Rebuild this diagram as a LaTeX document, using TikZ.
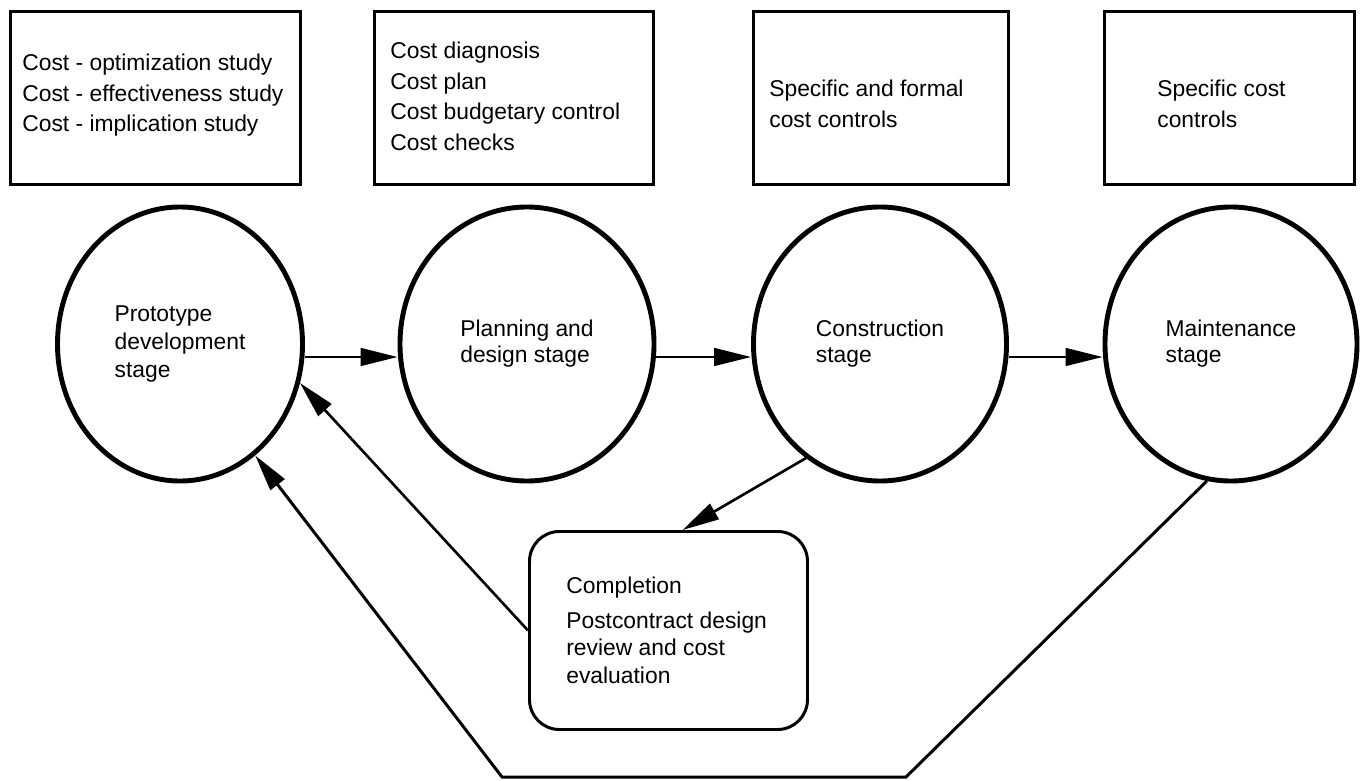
\documentclass[tikz,border=0pt]{standalone}
\usepackage{fontspec}
\setmainfont{Liberation Sans}
\usetikzlibrary{positioning,calc,arrows.meta,shapes.geometric}

\begin{document}
\begin{tikzpicture}[x=0.02cm,y=-0.02cm,font=\fontsize{13}{17.3}\selectfont,
			cost box/.style={draw, line width=1.7pt, rectangle, minimum height=173*0.02cm, anchor=north west},
			stage/.style={draw, ellipse, line width=2.8pt, align=left, inner sep=0pt,
				font=\fontsize{13}{14.8}\selectfont, minimum height=274*0.02cm},
			list/.style={align=left, inner sep=0pt, anchor=north west},
			flow/.style={line width=1.5pt, -{Triangle[length=21pt,width=10pt]}}]

			\useasboundingbox (0,0) rectangle (1363,781);

			% cost control boxes
			\node[cost box, minimum width=290*0.02cm] (c1) at (9,10) {};
			\node[cost box, minimum width=279*0.02cm] (c2) at (373,10) {};
			\node[cost box, minimum width=255*0.02cm] (c3) at (752,10) {};
			\node[cost box, minimum width=250*0.02cm] (c4) at (1103,10) {};

			\node[list] (t1) at ($(c1.north west)+(13,44)$) {Cost - optimization study\\ Cost - effectiveness study\\ Cost - implication study};
			\node[list] (t2) at ($(c2.north west)+(17,32)$) {Cost diagnosis\\ Cost plan\\ Cost budgetary control\\ Cost checks};
			\node[list] (t3) at ($(c3.north west)+(17,70)$) {Specific and formal\\ cost controls};
			\node[list] (t4) at ($(c4.north west)+(54,70)$) {Specific cost\\ controls};

			% stages
			\node[stage, minimum width=245*0.02cm] (s1) at (180,344) {Prototype\\[1pt] development\\[1pt] stage};
			\node[stage, minimum width=254*0.02cm] (s2) at (527,344) {Planning and\\ design stage};
			\node[stage, minimum width=253*0.02cm] (s3) at (880,344) {Construction\\ stage};
			\node[stage, minimum width=252*0.02cm] (s4) at (1231,344) {Maintenance\\ stage};

			\node[draw, line width=1.7pt, rounded corners=17pt, minimum width=278*0.02cm,
				minimum height=198*0.02cm, anchor=north west] (done) at (528,530) {};
			\node[list, font=\fontsize{13}{15.6}\selectfont] (t5) at ($(done.north west)+(38,47)$)
				{Completion\\[4pt] Postcontract design\\ review and cost\\ evaluation};

			\draw[flow] ($(s1.east)+(0,13)$) -- ($(s2.west)+(0,13)$);
			\draw[flow] ($(s2.east)+(0,13)$) -- ($(s3.west)+(0,13)$);
			\draw[flow] ($(s3.east)+(0,13)$) -- ($(s4.west)+(0,13)$);

			\draw[flow] (s3.-123) -- (done.82);
			\draw[flow] (done.west) -- (s1.-18);

			\coordinate (b1) at (502,777);
			\coordinate (b2) at (906,777);
			\draw[flow, line width=1.7pt] (s4.-100) -- (b2) -- (b1) -- (s1.-56);
		\end{tikzpicture}
\end{document}
